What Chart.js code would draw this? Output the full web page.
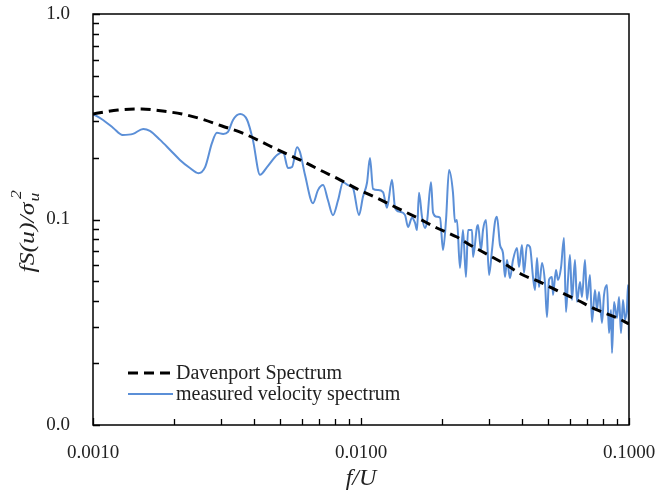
<!DOCTYPE html>
<html>
<head>
<meta charset="utf-8">
<script src="https://cdn.jsdelivr.net/npm/chart.js@4.4.0/dist/chart.umd.min.js"></script>
<style>
  html, body { margin: 0; padding: 0; background: #fff; }
</style>
</head>
<body>
<canvas id="spectrumChart" width="656" height="493"></canvas>
<script>
// Davenport model spectrum (normalised), f/U vs fS(u)/sigma^2
const davenportFreq = [0.00100, 0.00124, 0.00152, 0.00182, 0.00215, 0.00255, 0.00303, 0.00360, 0.00427, 0.00490,
  0.00592, 0.00703, 0.00835, 0.00966, 0.0115, 0.0136, 0.0162, 0.0192, 0.0228, 0.0255,
  0.0285, 0.0339, 0.0402, 0.0466, 0.0553, 0.0640, 0.0760, 0.0902, 0.1000];
const davenportSpec = [0.326, 0.341, 0.345, 0.337, 0.326, 0.308, 0.285, 0.264, 0.238, 0.218,
  0.195, 0.174, 0.156, 0.141, 0.127, 0.114, 0.102, 0.0909, 0.0822, 0.0752,
  0.0695, 0.0614, 0.0537, 0.0496, 0.0444, 0.0406, 0.0363, 0.0332, 0.0310];

// measured velocity spectrum
const measuredFreq = [0.00100, 0.00109, 0.00119, 0.00129, 0.00141, 0.00154, 0.00163, 0.00178, 0.00194, 0.00211,
  0.00230, 0.00247, 0.00262, 0.00278, 0.00290, 0.00306, 0.00319, 0.00333, 0.00354, 0.00376,
  0.00395, 0.00420, 0.00446, 0.00486, 0.00512, 0.00534, 0.00553, 0.00577, 0.00592, 0.00618,
  0.00662, 0.00691, 0.00722, 0.00753, 0.00786, 0.00821, 0.00857, 0.00894, 0.00934, 0.00983,
  0.01017, 0.01053, 0.01080, 0.01109, 0.01157, 0.01208, 0.01250, 0.01305, 0.01340, 0.01398,
  0.01460, 0.01498, 0.01550, 0.01591, 0.01618, 0.01646, 0.01689, 0.01733, 0.01763, 0.01825,
  0.01857, 0.01921, 0.01972, 0.02023, 0.02076, 0.02130, 0.02204, 0.02242, 0.02281, 0.02340,
  0.02402, 0.02464, 0.02508, 0.02596, 0.02618, 0.02709, 0.02733, 0.02804, 0.02853, 0.02927,
  0.03004, 0.03082, 0.03162, 0.03217, 0.03301, 0.03387, 0.03446, 0.03506, 0.03597, 0.03691,
  0.03820, 0.03886, 0.03987, 0.04057, 0.04163, 0.04271, 0.04383, 0.04459, 0.04537, 0.04615,
  0.04736, 0.04859, 0.04943, 0.05029, 0.05160, 0.05204, 0.05340, 0.05433, 0.05574, 0.05720,
  0.05819, 0.05920, 0.06023, 0.06127, 0.06287, 0.06397, 0.06564, 0.06677, 0.06851, 0.06970,
  0.07152, 0.07276, 0.07466, 0.07596, 0.07728, 0.07930, 0.08067, 0.08278, 0.08422, 0.08568,
  0.08642, 0.08792, 0.09022, 0.09178, 0.09335, 0.09497, 0.09663, 0.09829, 0.09915, 0.1000];
const measuredSpec = [0.326, 0.305, 0.279, 0.258, 0.261, 0.276, 0.270, 0.244, 0.218, 0.195,
  0.178, 0.168, 0.180, 0.236, 0.264, 0.261, 0.267, 0.305, 0.326, 0.305,
  0.244, 0.165, 0.180, 0.206, 0.213, 0.178, 0.180, 0.225, 0.213, 0.165,
  0.120, 0.139, 0.147, 0.124, 0.105, 0.124, 0.152, 0.147, 0.142, 0.105,
  0.129, 0.151, 0.199, 0.141, 0.139, 0.136, 0.114, 0.156, 0.114, 0.109,
  0.105, 0.0919, 0.102, 0.0962, 0.0889, 0.135, 0.103, 0.0909, 0.0973, 0.152,
  0.108, 0.103, 0.102, 0.0710, 0.0994, 0.174, 0.135, 0.0973, 0.0994, 0.0581,
  0.0889, 0.0525, 0.0889, 0.0889, 0.0657, 0.0919, 0.0940, 0.0710, 0.0889, 0.0994,
  0.0537, 0.0710, 0.0973, 0.103, 0.0751, 0.0687, 0.0525, 0.0635, 0.0519, 0.0635,
  0.0727, 0.0587, 0.0751, 0.0549, 0.0751, 0.0735, 0.0525, 0.0454, 0.0650, 0.0469,
  0.0614, 0.0491, 0.0335, 0.0508, 0.0525, 0.0429, 0.0568, 0.0508, 0.0581, 0.0813,
  0.0355, 0.0508, 0.0672, 0.0406, 0.0635, 0.0397, 0.0497, 0.0420, 0.0635, 0.0406,
  0.0537, 0.0317, 0.0454, 0.0363, 0.0444, 0.0314, 0.0429, 0.0480, 0.0280, 0.0363,
  0.0224, 0.0397, 0.0332, 0.0420, 0.0280, 0.0406, 0.0324, 0.0375, 0.0480, 0.0259];

// axis ticks: labelled decades, minor ticks at 2..9 in each decade
const xMajorTicks = [0.001, 0.01, 0.1];
const xTickLabels = ['0.0010', '0.0100', '0.1000'];
const yMajorTicks = [0.01, 0.1, 1];
const yTickLabels = ['0.0', '0.1', '1.0'];
const minorSteps = [2, 3, 4, 5, 6, 7, 8, 9];

const serif = '"Liberation Serif", "Times New Roman", serif';
const blue = '#5b8fd7';

function decadeTicks(majors) {
  const vals = [];
  majors.forEach((m, i) => {
    vals.push({ value: m, major: true });
    if (i < majors.length - 1) minorSteps.forEach(s => vals.push({ value: m * s, major: false }));
  });
  return vals;
}

function tickLabel(majors, labels) {
  return function (value) {
    const i = majors.findIndex(m => Math.abs(m - value) / m < 1e-6);
    return i >= 0 ? labels[i] : '';
  };
}

// frame, inside tick marks, y title and legend
const framePlugin = {
  id: 'frame',
  afterDraw(chart) {
    const ctx = chart.ctx;
    const a = chart.chartArea;
    const xs = chart.scales.x, ys = chart.scales.y;
    ctx.save();
    ctx.strokeStyle = '#000';
    ctx.lineWidth = 1.5;
    ctx.strokeRect(a.left, a.top, a.right - a.left, a.bottom - a.top);

    ctx.lineWidth = 1.3;
    ctx.beginPath();
    xs.ticks.forEach(t => {
      const px = Math.round(xs.getPixelForValue(t.value)) + 0.5;
      ctx.moveTo(px, a.bottom);
      ctx.lineTo(px, a.bottom - (t.major ? 7 : 6));
    });
    ys.ticks.forEach(t => {
      const py = Math.round(ys.getPixelForValue(t.value)) + 0.5;
      ctx.moveTo(a.left, py);
      ctx.lineTo(a.left + (t.major ? 7 : 6), py);
    });
    ctx.stroke();

    // y axis title with subscript and superscript
    ctx.translate(27, 232);
    ctx.rotate(-Math.PI / 2);
    ctx.scale(1.17, 1);
    ctx.fillStyle = '#222';
    ctx.textBaseline = 'alphabetic';
    const main = 'italic 22px ' + serif;
    const small = 'italic 15px ' + serif;
    ctx.font = main;
    const body = 'fS(u)/σ';
    const wBody = ctx.measureText(body).width;
    ctx.font = small;
    const wSub = ctx.measureText('u').width;
    const total = wBody + wSub + 2;
    const x0 = -total / 2;
    ctx.font = main;
    ctx.fillText(body, x0, 7);
    ctx.font = small;
    ctx.fillText('u', x0 + wBody + 1, 12);
    ctx.fillText('2', x0 + wBody + 3, -6);
    ctx.restore();

    // legend, lower left inside the plot
    ctx.save();
    ctx.font = '20px ' + serif;
    ctx.fillStyle = '#222';
    ctx.textBaseline = 'middle';
    chart.data.datasets.forEach((ds, i) => {
      const y = 373 + i * 21;
      ctx.strokeStyle = ds.borderColor;
      ctx.lineWidth = ds.borderWidth;
      ctx.setLineDash(ds.borderDash || []);
      ctx.beginPath();
      ctx.moveTo(128, y);
      ctx.lineTo(173, y);
      ctx.stroke();
      ctx.fillText(ds.label, 176, y + 1);
    });
    ctx.restore();
  }
};

const ctx = document.getElementById('spectrumChart').getContext('2d');
new Chart(ctx, {
  type: 'line',
  data: {
    datasets: [{
      label: 'Davenport Spectrum',
      data: davenportFreq.map((f, i) => ({ x: f, y: davenportSpec[i] })),
      borderColor: '#000',
      borderWidth: 3,
      borderDash: [10, 6],
      pointRadius: 0,
      cubicInterpolationMode: 'monotone',
      fill: false
    }, {
      label: 'measured velocity spectrum',
      data: measuredFreq.map((f, i) => ({ x: f, y: measuredSpec[i] })),
      borderColor: blue,
      borderWidth: 2,
      pointRadius: 0,
      cubicInterpolationMode: 'monotone',
      fill: false
    }]
  },
  options: {
    responsive: false,
    animation: false,
    layout: { padding: { left: 0, right: 27, top: 14, bottom: 0 } },
    plugins: { legend: { display: false }, tooltip: { enabled: false } },
    scales: {
      x: {
        type: 'logarithmic',
        min: 0.001,
        max: 0.1,
        grid: { display: false, drawTicks: false },
        border: { display: false },
        afterBuildTicks: s => { s.ticks = decadeTicks(xMajorTicks); },
        afterFit: s => { s.height = 68; s.paddingLeft = 0; s.paddingRight = 0; },
        ticks: {
          autoSkip: false,
          maxRotation: 0,
          padding: 17,
          color: '#222',
          font: { family: serif, size: 19 },
          callback: tickLabel(xMajorTicks, xTickLabels)
        },
        title: {
          display: true,
          text: 'f/U',
          color: '#222',
          font: { family: serif, size: 24, style: 'italic' },
          padding: { top: 0, bottom: 0 }
        }
      },
      y: {
        type: 'logarithmic',
        min: 0.01,
        max: 1,
        grid: { display: false, drawTicks: false },
        border: { display: false },
        afterBuildTicks: s => { s.ticks = decadeTicks(yMajorTicks); },
        afterFit: s => { s.width = 93; s.paddingTop = 0; s.paddingBottom = 0; },
        ticks: {
          autoSkip: false,
          padding: 23,
          color: '#222',
          font: { family: serif, size: 19 },
          callback: tickLabel(yMajorTicks, yTickLabels)
        }
      }
    }
  },
  plugins: [framePlugin]
});
</script>
</body>
</html>
